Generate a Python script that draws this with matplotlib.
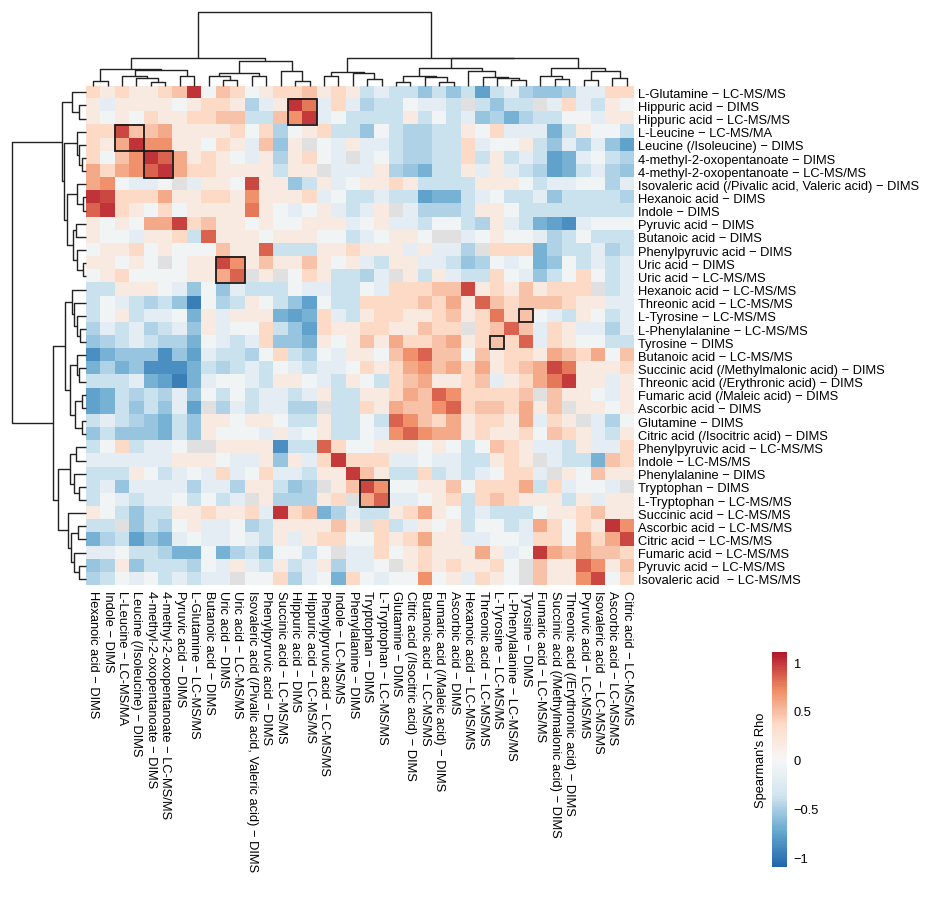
import numpy as np
import matplotlib.pyplot as plt
import matplotlib as mpl
from matplotlib.colors import LinearSegmentedColormap, Normalize
from matplotlib.patches import Rectangle

plt.rcParams['font.family'] = ['Liberation Sans', 'DejaVu Sans']

# Row / column order as drawn (after clustering)
row_labels = [
    "L-Glutamine − LC-MS/MS", "Hippuric acid − DIMS", "Hippuric acid − LC-MS/MS",
    "L-Leucine − LC-MS/MA", "Leucine (/Isoleucine) − DIMS",
    "4-methyl-2-oxopentanoate − DIMS", "4-methyl-2-oxopentanoate − LC-MS/MS",
    "Isovaleric acid (/Pivalic acid, Valeric acid) − DIMS", "Hexanoic acid − DIMS",
    "Indole − DIMS", "Pyruvic acid − DIMS", "Butanoic acid − DIMS",
    "Phenylpyruvic acid − DIMS", "Uric acid − DIMS", "Uric acid − LC-MS/MS",
    "Hexanoic acid − LC-MS/MS", "Threonic acid − LC-MS/MS", "L-Tyrosine − LC-MS/MS",
    "L-Phenylalanine − LC-MS/MS", "Tyrosine − DIMS", "Butanoic acid − LC-MS/MS",
    "Succinic acid (/Methylmalonic acid) − DIMS", "Threonic acid (/Erythronic acid) − DIMS",
    "Fumaric acid (/Maleic acid) − DIMS", "Ascorbic acid − DIMS", "Glutamine − DIMS",
    "Citric acid (/Isocitric acid) − DIMS", "Phenylpyruvic acid − LC-MS/MS",
    "Indole − LC-MS/MS", "Phenylalanine − DIMS", "Tryptophan − DIMS",
    "L-Tryptophan − LC-MS/MS", "Succinic acid − LC-MS/MS", "Ascorbic acid − LC-MS/MS",
    "Citric acid − LC-MS/MS", "Fumaric acid − LC-MS/MS", "Pyruvic acid − LC-MS/MS",
    "Isovaleric acid  − LC-MS/MS",
]

col_labels = [
    "Hexanoic acid − DIMS", "Indole − DIMS", "L-Leucine − LC-MS/MA",
    "Leucine (/Isoleucine) − DIMS", "4-methyl-2-oxopentanoate − DIMS",
    "4-methyl-2-oxopentanoate − LC-MS/MS", "Pyruvic acid − DIMS",
    "L-Glutamine − LC-MS/MS", "Butanoic acid − DIMS", "Uric acid − DIMS",
    "Uric acid − LC-MS/MS", "Isovaleric acid (/Pivalic acid, Valeric acid) − DIMS",
    "Phenylpyruvic acid − DIMS", "Succinic acid − LC-MS/MS", "Hippuric acid − DIMS",
    "Hippuric acid − LC-MS/MS", "Phenylpyruvic acid − LC-MS/MS", "Indole − LC-MS/MS",
    "Phenylalanine − DIMS", "Tryptophan − DIMS", "L-Tryptophan − LC-MS/MS",
    "Glutamine − DIMS", "Citric acid (/Isocitric acid) − DIMS", "Butanoic acid − LC-MS/MS",
    "Fumaric acid (/Maleic acid) − DIMS", "Ascorbic acid − DIMS", "Hexanoic acid − LC-MS/MS",
    "Threonic acid − LC-MS/MS", "L-Tyrosine − LC-MS/MS", "L-Phenylalanine − LC-MS/MS",
    "Tyrosine − DIMS", "Fumaric acid − LC-MS/MS", "Succinic acid (/Methylmalonic acid) − DIMS",
    "Threonic acid (/Erythronic acid) − DIMS", "Pyruvic acid − LC-MS/MS",
    "Isovaleric acid  − LC-MS/MS", "Ascorbic acid − LC-MS/MS", "Citric acid − LC-MS/MS",
]

# Spearman's rho x100, rows/cols in drawn order, None = missing (grey)
N = None
rho_pct = [
    [36, 17, 36, 17, 17, 36, 48, 100, -6, 48, 36, -6, 17, 36, 36, 48, 17, 36, 17, -38, -18, -38, -38, -57, -38, -57, -38, -77, -38, -18, -47, -57, -57, -47, -18, -18, 36, 36],
    [17, -18, 17, 17, 17, 17, -6, 17, 36, 36, 17, -47, -18, 17, 100, 78, -18, 36, -18, -47, -38, -38, -6, -18, -18, -38, N, -38, -57, -38, -38, N, -18, 36, -18, -38, 17, -6],
    [17, -6, 17, -6, 36, 17, 17, 36, 36, 48, 48, -38, -38, 48, 70, 97, -18, -6, -38, -38, -38, -38, 17, -38, -6, -38, -18, -57, -47, -68, -47, -38, -38, -6, -6, -18, 17, 17],
    [36, 36, 93, 48, 48, 58, 17, 17, 17, 17, 36, -6, 36, -47, -6, 17, 36, -38, -38, -57, -6, -38, -47, -47, -38, -38, 17, -6, 36, -18, -18, -18, -68, -38, 17, -6, -6, -38],
    [36, 17, 58, 100, 70, 70, 17, 17, -6, 36, 17, -18, 48, -57, 17, N, -6, -18, 17, -18, -18, -38, -47, -47, -38, -38, 36, -18, -6, -6, 17, -38, -57, -18, -47, -18, -57, -77],
    [36, -6, 48, 70, 100, 85, 58, 17, 36, 17, -6, -18, 17, -47, 17, 36, -6, -18, N, -18, -6, -38, -47, -47, -38, -38, 36, -38, 17, -38, -18, -38, -77, -68, -18, -6, -38, -47],
    [58, 36, 58, 70, 85, 100, 58, 36, 36, 17, 17, 17, 17, -38, 17, 17, N, -18, -18, -18, 17, -47, -57, -68, -38, -38, 17, -18, 17, -18, -38, -47, -77, -68, -38, -18, -47, -57],
    [58, 70, -6, -18, -18, -6, N, -18, 17, 17, -6, 93, 17, 17, -57, -38, 17, -18, -6, 17, 17, 36, 17, -38, -38, -38, -38, 17, 17, 17, -6, -38, -18, -18, -6, -6, -47, -18],
    [100, 93, 36, 36, 36, 58, 17, 17, 36, 36, 17, 70, 17, 17, 17, 36, -18, -6, -38, -38, -18, -38, -38, -77, -68, -68, -38, -18, -6, -38, -38, -18, -57, -38, -38, -38, -38, -47],
    [85, 100, 36, 17, -6, 36, -6, 17, 17, 17, 17, 78, 17, -6, -18, -6, 17, -18, -38, -18, 17, N, -18, -47, -47, -47, -38, 17, 17, -6, -38, -38, -38, -38, -38, -38, -38, -38],
    [17, -6, 17, -6, 58, 58, 95, 36, 48, 17, 17, -6, 17, -6, -6, 17, 17, 17, -18, -6, 17, -18, -18, -38, -6, -6, -38, -47, 17, -18, -38, -68, -77, -87, -18, -6, -6, -6],
    [17, -6, -6, -18, 17, 17, 36, -38, 85, 17, 17, 17, -6, 17, 17, 17, -6, -6, -38, -18, -6, 17, 17, -6, N, N, -18, -6, 17, -6, -6, -18, -47, -38, -6, -38, -38, -38],
    [-6, 17, 17, 36, -6, 17, -6, -6, -6, 48, 17, 17, 85, -38, -38, -38, 17, 17, 36, 17, 17, 17, -18, 17, -18, -18, -47, N, 36, 36, 36, -68, -47, -38, -38, -18, -47, -38],
    [17, 17, -6, 17, -6, N, -6, 17, 17, 93, 70, 17, 48, 17, 17, 48, 17, -6, 17, -18, -38, 17, 17, -18, -18, -38, -57, -47, -6, -18, -6, -68, -57, -6, -38, -18, -38, -18],
    [-6, 17, 36, -6, -6, -6, -6, 17, 17, 58, 85, N, 17, N, -6, 36, 17, -38, -38, -47, -18, N, 17, -38, 17, -18, -38, -38, 36, -6, -18, -57, -38, -6, 36, -6, -38, -18],
    [-38, -38, 17, 17, 17, -6, -18, -57, -6, -57, -18, -38, -38, -38, -6, -18, -18, -38, -38, -6, -18, 36, 36, 36, 48, 48, 93, 17, 36, 17, 48, 17, 36, 36, 36, N, -38, -18],
    [-38, -6, -18, -38, -47, -38, -57, -96, -6, -47, -38, 17, -6, -38, -57, -77, -6, -38, -38, 36, 36, 36, 36, 48, 36, 58, 17, 85, 48, 36, 48, 48, 48, 36, 17, 17, -18, -18],
    [-38, -6, 17, -38, -18, -18, -6, -68, 17, -18, 17, 17, 17, -68, -77, -68, 36, -18, -38, 17, 36, 36, 17, 17, 36, 48, 17, 36, 78, 36, 48, -6, -18, -38, 17, -6, -38, -18],
    [-47, -18, -38, -18, -47, -38, -18, -57, 17, -18, -6, -6, 36, -38, -57, -77, 36, 17, 17, 36, 36, 17, 17, 48, 36, 36, N, 36, 48, 85, 48, -18, 36, 17, -18, -18, -47, -18],
    [-57, -47, -38, -18, -38, -47, -47, -68, -6, -18, -38, -18, 36, -57, -57, -68, 17, -6, 17, 48, 17, 58, 36, 36, 48, 58, 17, 36, 48, 36, 85, -18, 36, 17, -6, -6, -38, -38],
    [-87, -68, -57, -57, -57, -87, -57, -77, -18, -38, -38, -47, -6, 36, -38, -47, -6, -18, 17, 17, -6, 48, 70, 85, 48, 48, -6, 48, 17, 36, 36, 17, 58, 48, 36, 58, -6, 48],
    [-68, -47, -68, -57, -87, -87, -87, -68, -38, -47, -38, -18, -38, -6, -18, -38, -18, -18, -6, 36, 17, 36, 58, 70, 48, 58, 36, 58, 17, 36, 48, 58, 93, 78, 17, 17, 17, 36],
    [-38, -38, -38, -18, -68, -77, -96, -68, -18, -6, -6, -18, -38, 17, 17, -6, -18, -38, 17, -6, -38, 36, 48, 58, 17, 17, 36, 48, -18, 17, 36, 58, 78, 97, 17, 17, -18, 17],
    [-77, -68, -38, -47, -38, -47, -18, -57, -6, -38, -6, -38, -18, -18, -38, -18, 17, -38, -38, 17, 17, 36, 58, 48, 85, 70, 36, 36, 36, 36, 48, N, 48, 17, 17, -6, -18, 17],
    [-77, -68, -38, -57, -38, -57, -18, -77, N, -47, -18, -38, -18, -18, -47, -47, N, -38, -38, 36, 17, 58, 48, 48, 70, 85, 36, 48, 48, 36, 58, 17, 48, N, 17, 17, -6, 17],
    [-38, -18, -38, -47, -57, -68, -38, -57, 17, 17, -6, 17, 17, -6, -38, -38, 17, -38, -38, -6, -38, 85, 70, 48, 36, 58, 17, 36, 36, 17, 58, -18, 36, 17, N, -18, -47, -6],
    [-57, -38, -57, -57, -57, -68, -38, -57, 17, -6, -6, -6, -18, 17, -18, -6, 17, -38, -38, -6, -18, 70, 85, 70, 58, 58, 17, 36, 17, 17, 36, -6, 48, 36, 17, -18, -38, 17],
    [-38, -6, 36, -38, -18, -18, -6, N, N, 17, 17, 17, 17, -87, -38, -38, 85, 36, -6, -6, 17, 17, 17, -6, 17, -6, -38, -6, 48, 36, 17, -18, -18, -38, 17, -18, -18, 36],
    [-18, -18, -18, -18, -18, -18, 17, 17, 17, -6, -18, -18, 17, -57, 17, -18, 36, 97, 36, 36, 36, -18, -18, -6, -18, -18, -38, -38, 17, 36, 17, N, -18, -38, -38, -68, 48, 36],
    [-38, -38, -38, 17, -6, -38, -18, -6, -18, 36, -18, -6, 36, -18, -18, -38, 17, 17, 97, 48, 17, -38, -38, 36, -38, -18, -38, -18, -6, 36, 36, -18, N, 17, -6, 48, 17, 17],
    [-38, -18, -57, -18, -18, -18, -18, -47, -18, -18, -47, 17, 17, -38, -57, -47, N, 17, 48, 93, 70, -6, -6, 17, 17, 48, -6, 36, 36, 36, 58, -38, 36, -18, -6, -6, -18, N],
    [-38, -6, -18, -38, -18, -18, -6, -38, -6, -38, -18, N, 17, -47, -47, -47, 17, 36, N, 58, 85, -18, -18, -6, 17, 36, -38, 36, 48, 36, 17, 17, 17, -38, 17, -18, 17, 17],
    [17, -6, -38, -57, -38, -38, 17, 17, 36, 17, 17, 36, -18, 100, 36, 48, -68, -47, -18, -38, -38, 17, 36, 58, 17, -6, -38, -18, -38, -38, -38, -6, 17, 17, 36, 48, 17, 17],
    [-38, -38, N, -57, -38, -47, -6, 17, -18, -18, -6, -47, -38, 17, 17, 17, 17, 48, 17, N, 36, -38, -18, 17, -6, 17, -38, -6, -6, -38, -18, 58, 36, -6, 36, 17, 100, 70],
    [-68, -47, -38, -77, -57, -68, -18, -6, -18, -18, -6, -18, -38, 17, -18, 17, 36, 36, -6, -6, 36, 17, 36, 58, 17, 17, -18, -18, -6, -6, -18, 36, 36, -6, 58, 36, 58, 93],
    [-18, -18, -6, -38, -38, -47, -68, -68, -6, -68, -47, -38, -57, -6, -6, -38, -6, N, -18, -18, 36, -6, 17, 36, 17, 17, 17, 58, 17, -18, -6, 97, 58, 48, 58, 48, 48, 36],
    [-57, -47, 17, -57, -38, -38, -38, -47, -6, -18, 17, -18, -38, 17, -38, -18, 17, -47, -18, -18, -6, N, 17, 36, 17, 36, 17, 17, 36, -6, N, 48, 17, 17, 85, 70, 17, 48],
    [-47, -38, -6, -18, -6, -38, -18, -38, -18, -18, N, -6, -6, 36, -47, -18, -6, -68, 36, -6, -18, -6, -6, 70, -6, 17, -18, 36, 17, -6, N, 48, 17, 17, 70, 93, -6, 36],
]

# black boxes: (first row, first col, n rows, n cols)
boxes = [(1, 14, 2, 2), (3, 2, 2, 2), (5, 4, 2, 2), (13, 9, 2, 2),
         (30, 19, 2, 2), (17, 30, 1, 1), (19, 28, 1, 1)]

# dendrograms: (left, right, merge height); ints are leaf positions
row_tree = (
    ((0, (1, 2, 7.0), 14.3),
     ((3, (4, (5, 6, 4.3), 7.0), 9.3),
      ((7, (8, 9, 2.7), 9.3),
       ((10, 11, 10.0), (12, (13, 14, 3.3), 8.7), 13.3), 19.3), 21.7), 24.3),
    (((15, (16, (17, (18, 19, 6.0), 9.3), 12.0), 14.3),
      ((20, (21, 22, 7.0), 9.3), ((23, 24, 4.3), (25, 26, 4.3), 11.0), 16.0), 21.4),
     (((27, 28, 10.0), (29, (30, 31, 7.0), 12.0), 16.0),
      (32, ((33, 34, 8.3), (35, (36, 37, 7.0), 12.0), 15.0), 17.7), 28.3), 32.7),
    74.3)

col_tree = (
    (((0, 1, 4.7), ((2, (3, (4, 5, 4.0), 7.4), 9.4), (6, 7, 10.0), 15.7), 16.4),
     (((8, (9, 10, 6.0), 10.0), (11, 12, 10.0), 12.4), (13, (14, 15, 5.0), 15.0), 24.4), 28.0),
    (((16, 17, 9.4), (18, (19, 20, 6.4), 12.4), 13.4),
     ((((21, 22, 3.4), (23, (24, 25, 3.4), 9.0), 10.0),
       (26, (27, (28, (29, 30, 5.4), 7.7), 9.0), 14.4), 17.4),
      ((31, (32, 33, 6.4), 10.0), ((34, 35, 5.4), (36, 37, 7.4), 15.0), 18.0), 27.4), 28.2),
    73.4)

rho = np.array([[np.nan if v is None else v / 100 for v in r] for r in rho_pct], dtype=float)
n_rows, n_cols = rho.shape

cmap = LinearSegmentedColormap.from_list(
    'rdbu', ['#2166AC', '#67A9CF', '#D1E5F0', '#F7F7F7', '#FDDBC7', '#EF8A62', '#B2182B'], N=100)
cmap.set_bad('#E0E0E0')
norm = Normalize(-1.1, 1.1)

W, H = 950, 903
fig = plt.figure(figsize=(W / 100, H / 100), dpi=100)


def px_box(l, t, r, b):
    return [l / W, 1 - b / H, (r - l) / W, (b - t) / H]


ax = fig.add_axes(px_box(86, 86.7, 634, 586.5))
ax.imshow(rho, cmap=cmap, norm=norm, aspect='auto', interpolation='nearest',
          extent=(0, n_cols, n_rows, 0))
for r0, c0, nr, nc in boxes:
    ax.add_patch(Rectangle((c0, r0), nc, nr, fill=False, edgecolor='#1a1a1a', lw=1.3))
for s in ax.spines.values():
    s.set_visible(False)
ax.yaxis.tick_right()
ax.set_yticks(np.arange(n_rows) + 0.5)
ax.set_yticklabels(row_labels, fontsize=9.3)
ax.set_xticks(np.arange(n_cols) + 0.5)
ax.set_xticklabels(col_labels, fontsize=9.3, rotation=-90)
ax.tick_params(length=0, pad=3)


def draw_tree(axd, node, vertical):
    if isinstance(node, int):
        return node + 0.5, 0.0
    a, b, h = node
    pa, ha = draw_tree(axd, a, vertical)
    pb, hb = draw_tree(axd, b, vertical)
    pos = [pa, pa, pb, pb]
    hts = [ha, h, h, hb]
    if vertical:
        axd.plot(pos, hts, color='#222222', lw=1.0, clip_on=False, solid_capstyle='butt')
    else:
        axd.plot(hts, pos, color='#222222', lw=1.0, clip_on=False, solid_capstyle='butt')
    return (pa + pb) / 2, h


axc = fig.add_axes(px_box(86, 13.3, 634, 86.7))
draw_tree(axc, col_tree, True)
axc.set_xlim(0, n_cols)
axc.set_ylim(0, 73.4)
axc.axis('off')

axr = fig.add_axes(px_box(11.7, 86.7, 86, 586.5))
draw_tree(axr, row_tree, False)
axr.set_xlim(74.3, 0)
axr.set_ylim(n_rows, 0)
axr.axis('off')

# colour key
cax = fig.add_axes(px_box(772.3, 653.3, 786.7, 868.3))
sm = mpl.cm.ScalarMappable(norm=norm, cmap=cmap)
cb = fig.colorbar(sm, cax=cax, ticks=[-1, -0.5, 0, 0.5, 1])
cb.ax.set_yticklabels(['−1', '−0.5', '0', '0.5', '1'])
cb.outline.set_visible(False)
cb.ax.tick_params(length=0, pad=5, labelsize=9.3)
cb.ax.yaxis.set_label_position('left')
cb.set_label("Spearman's Rho", fontsize=9.3, labelpad=4)

fig.savefig('out.png', dpi=100)
